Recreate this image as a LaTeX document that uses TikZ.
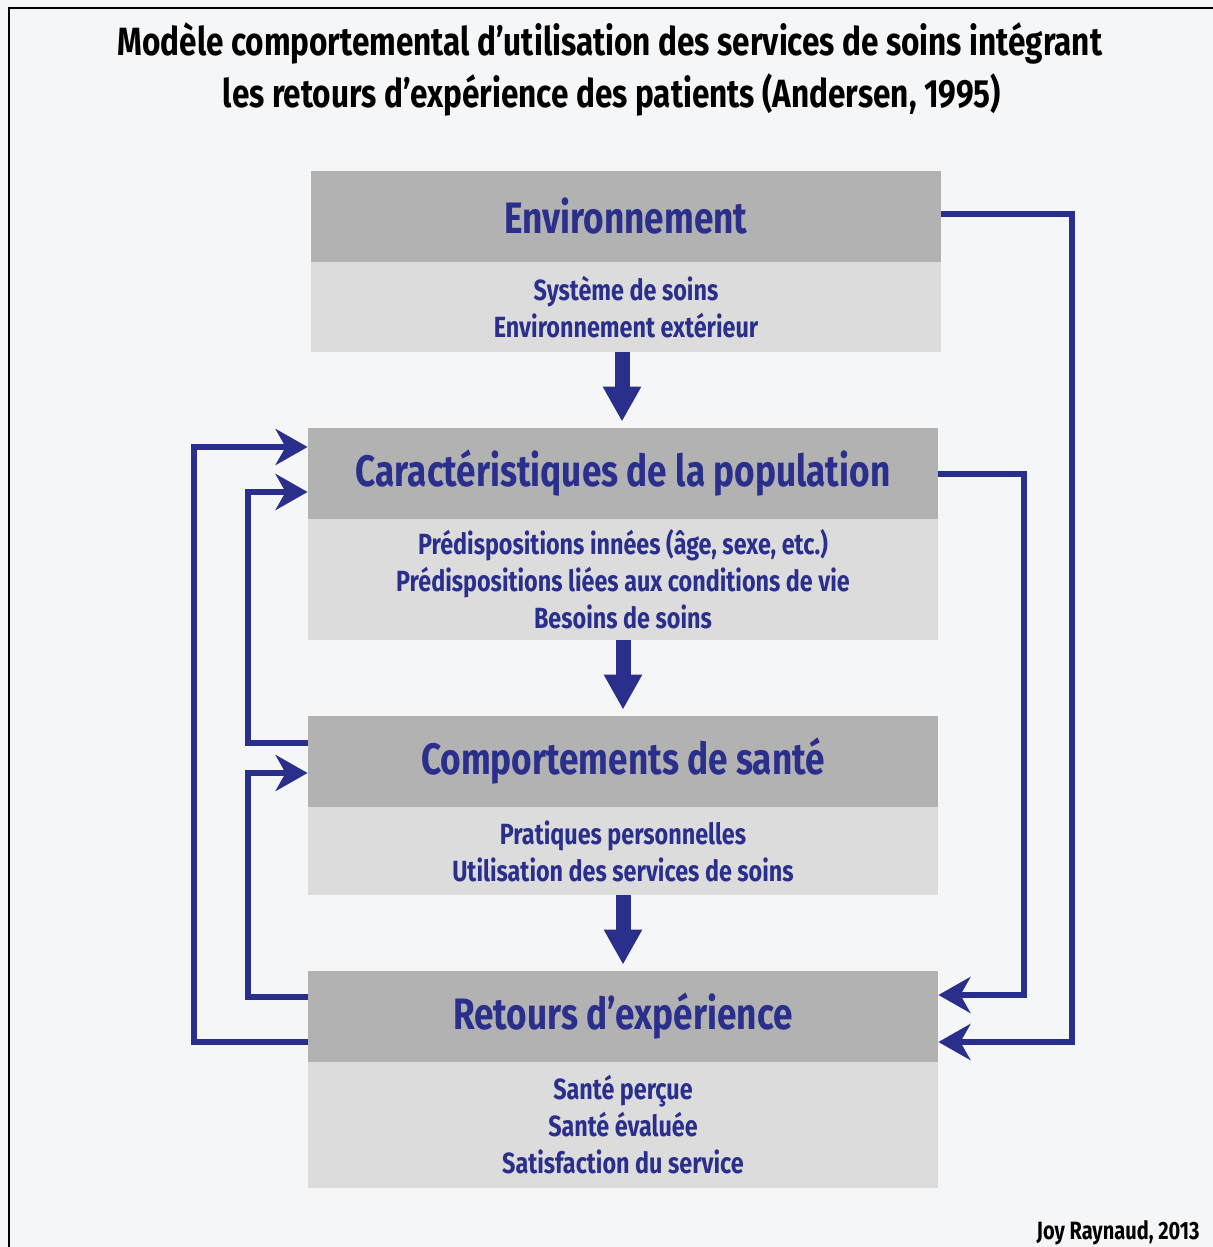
\documentclass[tikz,border=0pt]{standalone}
\usepackage{fontspec}
\setmainfont{Fira Sans}[FakeStretch=0.8]
\usetikzlibrary{arrows.meta}
\definecolor{navy}{RGB}{43,47,140}
\definecolor{hdrgray}{RGB}{178,178,178}
\definecolor{bodygray}{RGB}{220,220,220}
\definecolor{bgcol}{RGB}{245,246,248}
\tikzset{
  hdr/.style={fill=hdrgray, minimum width=315pt, minimum height=45.5pt, inner sep=0pt, text=navy, font=\bfseries\fontsize{22}{26}\selectfont},
  bodybox/.style={fill=bodygray, minimum width=315pt, inner sep=0pt, text=navy, align=center, font=\bfseries\fontsize{14.6}{18.5}\selectfont},
  downarrow/.style={navy, line width=7.5pt, -{Triangle[length=17.5pt,width=18pt]}, shorten >=3pt},
  fb/.style={navy, line width=3pt, -{Stealth[length=16pt,width=18pt,inset=5pt]}},
  titletext/.style={font=\bfseries\fontsize{19.7}{24}\selectfont, text=black, inner sep=0pt},
}
\begin{document}
\begin{tikzpicture}[x=0.5pt, y=-0.5pt]
\fill[bgcol] (0,0) rectangle (1213,1247);
\useasboundingbox (0,0) rectangle (1213,1247);
\draw[black, line width=1.2pt] (9,1247) -- (9,8) -- (1213,8);

\node[titletext] (t1) at (610,43) {Modèle comportemental d’utilisation des services de soins intégrant};
\node[titletext] (t2) at (612,95) {les retours d’expérience des patients (Andersen, 1995)};

\node[hdr] (h1) at (626,216.5) {Environnement};
\node[bodybox, minimum height=45pt] (b1) at (626,307) {Système de soins\\Environnement extérieur};

\node[hdr] (h2) at (623,473.5) {Caractéristiques de la population};
\node[bodybox, minimum height=60.5pt] (b2) at (623,579.5) {Prédispositions innées (âge, sexe, etc.)\\Prédispositions liées aux conditions de vie\\Besoins de soins};

\node[hdr] (h3) at (623,761.5) {Comportements de santé};
\node[bodybox, minimum height=44pt] (b3) at (623,851) {Pratiques personnelles\\Utilisation des services de soins};

\node[hdr] (h4) at (623,1016.5) {Retours d’expérience};
\node[bodybox, minimum height=63pt] (b4) at (623,1125) {Santé perçue\\Santé évaluée\\Satisfaction du service};

\node[font=\bfseries\fontsize{12.5}{15}\selectfont, anchor=east, inner sep=0pt] (credit) at (1200,1233) {Joy Raynaud, 2013};

\draw[downarrow] ([xshift=-2pt]b1.south) -- ([xshift=-0.5pt]h2.north);
\draw[downarrow] (b2.south) -- (h3.north);
\draw[downarrow] (b3.south) -- (h4.north);

\draw[fb] ([yshift=1.25pt]h1.east) -- ++(131,0) |- ([yshift=-12.75pt]h4.east);
\draw[fb] (h2.east) -- ++(86,0) |- ([yshift=10.75pt]h4.east);
\draw[fb] ([yshift=9.25pt]h3.west) -- ++(-60,0) |- ([yshift=-9.25pt]h2.west);
\draw[fb] ([yshift=-12.75pt]h4.west) -- ++(-114,0) |- ([yshift=13.25pt]h2.west);
\draw[fb] ([yshift=9.75pt]h4.west) -- ++(-60,0) |- ([yshift=-5.75pt]h3.west);
\end{tikzpicture}
\end{document}
